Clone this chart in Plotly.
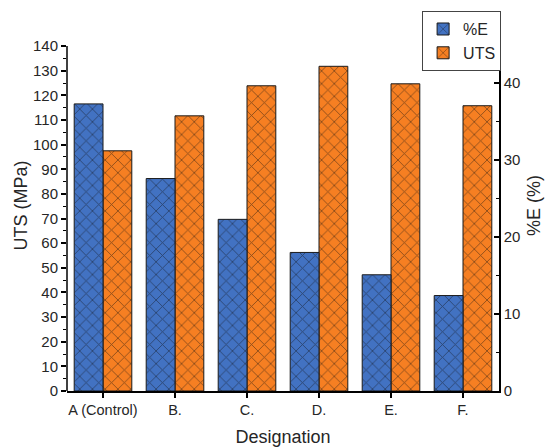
import plotly.graph_objects as go

categories = ["A (Control)", "B.", "C.", "D.", "E.", "F."]
elongation = [37.3, 27.6, 22.3, 18.0, 15.1, 12.4]      # %E, right axis
uts = [97.5, 111.7, 123.9, 131.8, 124.7, 115.8]        # UTS (MPa), left axis
left_ticks = list(range(0, 141, 10))
left_minor = list(range(5, 140, 10))
right_ticks = list(range(0, 41, 10))
right_minor = list(range(5, 40, 10))

FONT = "Liberation Sans, Arial, sans-serif"
TXT = "#262626"
BLUE = "#4272C2"
ORANGE = "#F67F22"
PAT = dict(shape="x", size=9, solidity=0.18, fgcolor="#111111")

fig = go.Figure()
fig.add_trace(go.Bar(
    x=categories, y=elongation, name="%E", yaxis="y2",
    width=0.4, offset=-0.4,
    marker=dict(color=BLUE, line=dict(color="#1a1a1a", width=1), pattern=PAT),
))
fig.add_trace(go.Bar(
    x=categories, y=uts, name="UTS", yaxis="y",
    width=0.4, offset=0.0,
    marker=dict(color=ORANGE, line=dict(color="#1a1a1a", width=1), pattern=PAT),
))

fig.update_layout(
    width=547, height=448,
    margin=dict(l=67, r=48, t=20, b=57, autoexpand=False),
    paper_bgcolor="white", plot_bgcolor="white",
    font=dict(family=FONT, color=TXT, size=14),
    barmode="overlay",
    showlegend=True,
    legend=dict(x=0.822, y=1.024, xanchor="left", yanchor="top",
                bgcolor="white", bordercolor="#444", borderwidth=1,
                font=dict(size=16, color=TXT), tracegroupgap=0),
    xaxis=dict(
        range=[-0.5, 5.5], showline=True, linecolor="black", linewidth=1.5,
        ticks="outside", ticklen=5, tickwidth=1.5, tickcolor="black",
        minor=dict(ticks="outside", ticklen=4, tickwidth=1, tickcolor="black",
                   tickmode="linear", tick0=0.5, dtick=1),
        showgrid=False, zeroline=False,
        tickfont=dict(size=14.5, color=TXT),
        title=dict(text="Designation", font=dict(size=18, color=TXT), standoff=13),
    ),
    yaxis=dict(
        range=[0, 150.6], showline=False,
        tickmode="array", tickvals=left_ticks,
        ticks="outside", ticklen=5, tickwidth=1.5, tickcolor="black",
        minor=dict(tickvals=left_minor, ticks="outside", ticklen=3,
                   tickwidth=1, tickcolor="black"),
        showgrid=False, zeroline=False,
        tickfont=dict(size=15, color=TXT),
        title=dict(text="UTS (MPa)", font=dict(size=18, color=TXT), standoff=0),
    ),
    yaxis2=dict(
        range=[0, 48.2], overlaying="y", side="right", anchor="x",
        showline=True, linecolor="black", linewidth=1.5,
        tickmode="array", tickvals=right_ticks,
        ticks="inside", ticklen=5, tickwidth=1.5, tickcolor="black",
        minor=dict(tickvals=right_minor, ticks="inside", ticklen=3,
                   tickwidth=1, tickcolor="black"),
        showgrid=False, zeroline=False,
        tickfont=dict(size=15, color=TXT),
        title=dict(text="%E (%)", font=dict(size=18, color=TXT), standoff=8),
    ),
    shapes=[dict(type="line", xref="paper", yref="y", x0=0, x1=0,
                 y0=0, y1=left_ticks[-1], line=dict(color="black", width=1.5),
                 layer="above")],
)

fig.write_html("out.html", config={"displayModeBar": False},
               post_script="document.body.style.margin='0';")
